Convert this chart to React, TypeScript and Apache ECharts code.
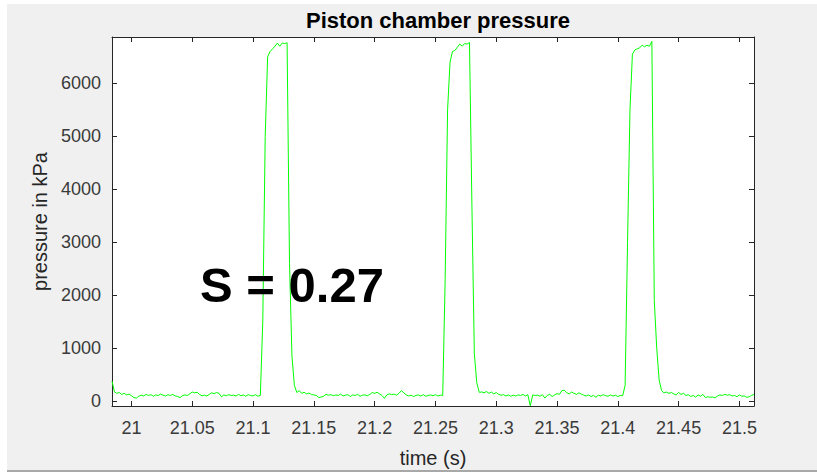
import React, { useEffect, useRef } from "react";
import * as echarts from "echarts";

// Sampling grid of the recorded signal (seconds)
const T0 = 20.984;
const DT = 0.002;

// Piston chamber pressure samples (kPa)
const pressure: number[] = [
  380, 180, 150, 165, 130, 150, 120, 135, 105, 70,
  60, 95, 115, 100, 130, 110, 125, 95, 120, 110,
  135, 115, 100, 125, 110, 130, 100, 90, 70, 105,
  120, 110, 140, 175, 160, 170, 130, 105, 115, 100,
  130, 160, 145, 165, 150, 85, 120, 105, 125, 110,
  115, 100, 130, 105, 120, 95, 125, 110, 100, 125,
  95, 110, 1500, 5000, 6500, 6600, 6650, 6700, 6760, 6700,
  6760, 6750, 6765, 2600, 850, 300, 165, 200, 150, 170,
  140, 155, 130, 120, 110, 70, 80, 95, 130, 115,
  125, 105, 120, 110, 135, 100, 115, 125, 90, 120,
  110, 130, 95, 115, 120, 105, 130, 165, 150, 170,
  140, 110, 55, 120, 140, 125, 135, 115, 150, 200,
  160, 120, 100, 115, 90, 110, 120, 100, 125, 95,
  110, 120, 105, 125, 100, 115, 110, 2300, 5500, 6400,
  6600, 6620, 6680, 6740, 6700, 6750, 6740, 6770, 3700, 900,
  350, 170, 175, 160, 185, 150, 175, 140, 165, 130,
  115, 125, 100, 120, 95, 115, 100, 120, 110, 130,
  100, 125, -85, 120, 110, 115, 95, 125, 60, 110,
  130, 90, 120, 145, 130, 200, 210, 160, 140, 175,
  150, 130, 160, 135, 115, 100, 120, 90, 110, 75,
  115, 100, 125, 105, 95, 120, 100, 115, 90, 110,
  105, 300, 3000, 5500, 6550, 6630, 6650, 6670, 6720, 6690,
  6720, 6700, 6790, 1900, 1000, 400, 200, 160, 175, 150,
  165, 140, 120, 165, 130, 150, 110, 125, 90, 110,
  80, 120, 95, 130, 70, 85, 75, 80, 65, 100,
  120, 110, 130, 115, 125, 100, 110, 85, 120, 95,
  100, 75, 85, 110, 130,
];

const time: number[] = pressure.map((_, i) => +(T0 + i * DT).toFixed(3));

const xTicks = [21, 21.05, 21.1, 21.15, 21.2, 21.25, 21.3, 21.35, 21.4, 21.45, 21.5];
const yTicks = [0, 1000, 2000, 3000, 4000, 5000, 6000];

const X_MIN = 20.984;
const X_MAX = 21.512;
const Y_MIN = -89;
const Y_MAX = 6874;

const TITLE = "Piston chamber pressure";
const X_NAME = "time (s)";
const Y_NAME = "pressure in kPa";
const ANNOTATION = "S = 0.27";

export default function App() {
  const ref = useRef<HTMLDivElement>(null);

  useEffect(() => {
    if (!ref.current) return;
    const chart = echarts.init(ref.current, null, { renderer: "svg" });
    const font = "'Liberation Sans', Arial, Helvetica, sans-serif";
    const axisColor = "#262626";
    const labelColor = "#3a3a3a";

    const baseX = {
      type: "value",
      min: X_MIN,
      max: X_MAX,
      splitLine: { show: false },
      axisLine: { show: true, onZero: false, lineStyle: { color: axisColor, width: 1 } },
      axisTick: { show: true, inside: true, length: 5, customValues: xTicks, lineStyle: { color: axisColor } },
    };
    const baseY = {
      type: "value",
      min: Y_MIN,
      max: Y_MAX,
      splitLine: { show: false },
      axisLine: { show: true, onZero: false, lineStyle: { color: axisColor, width: 1 } },
      axisTick: { show: true, inside: true, length: 5, customValues: yTicks, lineStyle: { color: axisColor } },
    };

    chart.setOption({
      animation: false,
      backgroundColor: "#f0f0f0",
      title: {
        text: TITLE,
        left: 433,
        top: 4,
        textAlign: "center",
        textStyle: { fontFamily: font, fontSize: 22, fontWeight: "bold", color: "#000" },
      },
      grid: {
        left: 112,
        top: 37,
        width: 642,
        height: 369,
        containLabel: false,
        outerBoundsMode: "none",
        show: true,
        backgroundColor: "#ffffff",
        borderWidth: 0,
      },
      xAxis: [
        {
          ...baseX,
          position: "bottom",
          axisLabel: {
            show: true,
            customValues: xTicks,
            margin: 13,
            fontFamily: font,
            fontSize: 18,
            color: labelColor,
            formatter: (v: number) => String(+v.toFixed(2)),
          },
          name: X_NAME,
          nameLocation: "middle",
          nameGap: 42,
          nameTextStyle: { fontFamily: font, fontSize: 20, color: axisColor },
        },
        {
          ...baseX,
          position: "top",
          axisLabel: { show: false },
        },
      ],
      yAxis: [
        {
          ...baseY,
          position: "left",
          axisLabel: {
            show: true,
            customValues: yTicks,
            margin: 11,
            fontFamily: font,
            fontSize: 18,
            color: labelColor,
            formatter: (v: number) => String(Math.round(v)),
          },
          name: Y_NAME,
          nameLocation: "middle",
          nameGap: 58,
          nameRotate: 90,
          nameTextStyle: { fontFamily: font, fontSize: 20, color: axisColor },
        },
        {
          ...baseY,
          position: "right",
          axisLabel: { show: false },
        },
      ],
      graphic: [
        { type: "rect", shape: { x: 0, y: 0, width: 7, height: 472 }, style: { fill: "#ffffff" }, silent: true },
        { type: "rect", shape: { x: 0, y: 0, width: 817, height: 4 }, style: { fill: "#ffffff" }, silent: true },
        { type: "rect", shape: { x: 7, y: 470, width: 810, height: 2 }, style: { fill: "#a8a8a8" }, silent: true },
        {
          type: "text",
          x: 200,
          y: 285,
          style: {
            text: ANNOTATION,
            fontFamily: font,
            fontSize: 49,
            fontWeight: "bold",
            fill: "#000",
            textVerticalAlign: "middle",
            verticalAlign: "middle",
          },
          z: 100,
        },
      ],
      series: [
        {
          type: "line",
          xAxisIndex: 0,
          yAxisIndex: 0,
          data: time.map((t, i) => [t, pressure[i]]),
          showSymbol: false,
          symbol: "none",
          clip: true,
          lineStyle: { color: "#00ff00", width: 1 },
          z: 5,
        },
      ],
    });

    return () => chart.dispose();
  }, []);

  return (
    <div
      ref={ref}
      style={{ position: "fixed", left: 0, top: 0, width: 817, height: 472 }}
    />
  );
}
